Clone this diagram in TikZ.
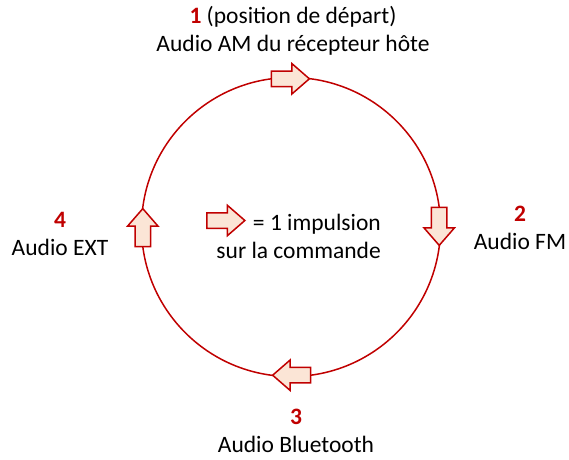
\documentclass[tikz,border=0pt]{standalone}
\usepackage{fontspec}
\setmainfont{Carlito}
\usepackage{tikz}
\usetikzlibrary{shapes.arrows}

\definecolor{darkred}{HTML}{C00000}
\definecolor{lightpink}{HTML}{FBE5D6}

\newcommand{\stepnum}[1]{\textcolor{darkred}{\textbf{#1}}}

\tikzset{
  ring/.style={draw=darkred, line width=1.5pt},
  pulse/.style={single arrow, draw=darkred, fill=lightpink, line width=1.5pt,
    inner xsep=0pt, inner ysep=7pt, minimum height=38pt,
    single arrow head extend=7.5pt, single arrow tip angle=82, anchor=tip},
  label/.style={align=center, inner sep=0pt, font=\fontsize{23.5}{28}\selectfont}
}

\begin{document}
\begin{tikzpicture}[x=1pt,y=1pt]
  \useasboundingbox (0,0) rectangle (569,459);

  %cycle
  \coordinate (c) at (291,232);
  \draw[ring] (c) circle (149.5);

  %pulses
  \node[pulse] (p1) at ([shift={(82.5:149.5)}]c) {};
  \node[pulse, rotate=-90] (p2) at ([shift={(-7.5:149.5)}]c) {};
  \node[pulse, rotate=180] (p3) at ([shift={(262.5:149.5)}]c) {};
  \node[pulse, rotate=90] (p4) at ([shift={(172.5:149.5)}]c) {};

  %labels
  \node[label] (s1) at (293,428) {\stepnum{1} (position de départ)\\Audio AM du récepteur hôte};
  \node[label] (s2) at (520,231) {\stepnum{2}\\Audio FM};
  \node[label] (s3) at (296,28) {\stepnum{3}\\Audio Bluetooth};
  \node[label] (s4) at (60,225) {\stepnum{4}\\Audio EXT};

  %legend
  \node[pulse] (key) at (246,238.5) {};
  \node[label, align=right, anchor=east] (keytext) at (381,223) {= 1 impulsion\\sur la commande};

\end{tikzpicture}
\end{document}
